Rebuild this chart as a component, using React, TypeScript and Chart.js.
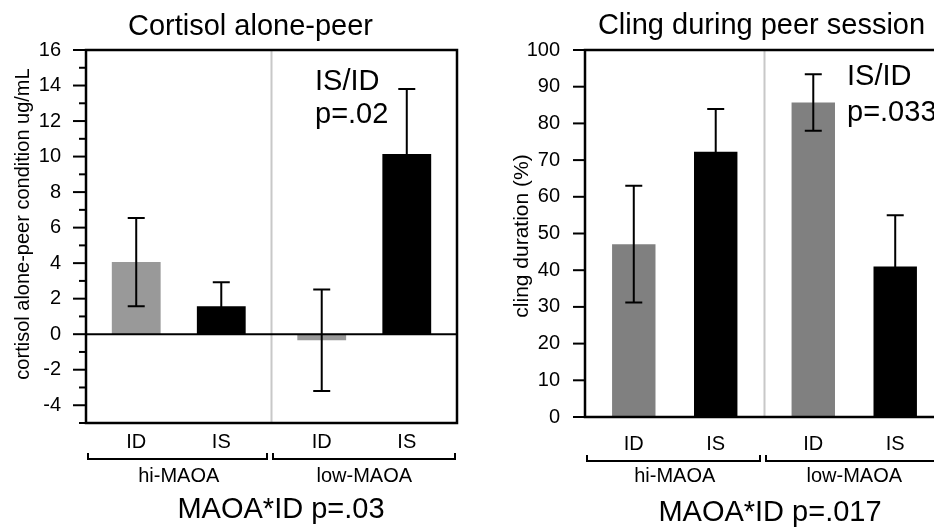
import React, { useEffect, useRef } from 'react';
import { Chart, registerables } from 'chart.js';
Chart.register(...registerables);

// ---- data ----
const groups = ['hi-MAOA', 'low-MAOA'];
const conditions = ['ID', 'IS'];

const cortisolID = [4.06, -0.34];
const cortisolIDErr = [2.48, 2.86];
const cortisolIS = [1.58, 10.14];
const cortisolISErr = [1.35, 3.66];
const cortisolTickLabels = [-4, -2, 0, 2, 4, 6, 8, 10, 12, 14, 16];

const clingID = [47.1, 85.7];
const clingIDErr = [15.9, 7.7];
const clingIS = [72.3, 41.0];
const clingISErr = [11.6, 14.0];
const clingTickLabels = [0, 10, 20, 30, 40, 50, 60, 70, 80, 90, 100];

const FONT = '"Liberation Sans", Arial, Helvetica, sans-serif';

type PanelCfg = {
  width: number;
  values: number[][];
  errors: number[][];
  colors: string[];
  min: number;
  max: number;
  step: number;
  tickLabels: number[];
  yAxisWidth: number;
  bottomPad: number;
  topPad: number;
  rightPad: number;
  catPct: number;
  barPct: number;
  title: string;
  titleX: number;
  titleY: number;
  yTitle: string;
  yTitleX: number;
  yTitleY: number;
  yTitleSize: number;
  annot: string[];
  annotX: number;
  annotY: number[];
  bottom: string;
  bottomX: number;
  bottomY: number;
  condY: number;
  bracketY: number;
  groupY: number;
  zeroLine: boolean;
  closedRight: boolean;
  majorLen: number;
  minorLen: number;
};

function makeChart(canvas: HTMLCanvasElement, p: PanelCfg) {
  const overlay = {
    id: 'overlay',
    beforeDatasetsDraw(chart: any) {
      const { ctx, chartArea: a } = chart;
      const xs = chart.scales.x;
      const mid = (xs.getPixelForValue(0) + xs.getPixelForValue(1)) / 2;
      ctx.save();
      ctx.strokeStyle = '#c8c8c8';
      ctx.lineWidth = 2;
      ctx.beginPath();
      ctx.moveTo(mid, a.top);
      ctx.lineTo(mid, a.bottom);
      ctx.stroke();
      ctx.restore();
    },
    afterDatasetsDraw(chart: any) {
      const { ctx, chartArea: a } = chart;
      const xs = chart.scales.x;
      const ys = chart.scales.y;
      const mid = (xs.getPixelForValue(0) + xs.getPixelForValue(1)) / 2;
      ctx.save();
      ctx.strokeStyle = '#000';
      ctx.fillStyle = '#000';
      // zero line
      if (p.zeroLine) {
        const y0 = ys.getPixelForValue(0);
        ctx.lineWidth = 2;
        ctx.beginPath();
        ctx.moveTo(a.left, y0);
        ctx.lineTo(a.right, y0);
        ctx.stroke();
      }
      // error bars
      ctx.lineWidth = 2;
      p.values.forEach((vals, i) => {
        const meta = chart.getDatasetMeta(i);
        vals.forEach((v, j) => {
          const x = meta.data[j].x;
          const e = p.errors[i][j];
          const yt = ys.getPixelForValue(v + e);
          const yb = ys.getPixelForValue(v - e);
          ctx.beginPath();
          ctx.moveTo(x, yt);
          ctx.lineTo(x, yb);
          ctx.moveTo(x - 8.5, yt);
          ctx.lineTo(x + 8.5, yt);
          ctx.moveTo(x - 8.5, yb);
          ctx.lineTo(x + 8.5, yb);
          ctx.stroke();
        });
      });
      // frame
      ctx.lineWidth = 2.5;
      ctx.beginPath();
      const yBase = ys.getPixelForValue(p.min);
      if (p.closedRight) {
        ctx.rect(a.left, a.top, a.right - a.left, yBase - a.top);
      } else {
        ctx.moveTo(chart.width + 20, a.top);
        ctx.lineTo(a.left, a.top);
        ctx.lineTo(a.left, yBase);
        ctx.lineTo(chart.width + 20, yBase);
        ctx.moveTo(a.right, a.top);
        ctx.lineTo(a.right, yBase);
      }
      ctx.stroke();
      // tick marks
      ctx.lineWidth = 2;
      ys.ticks.forEach((t: any) => {
        const y = ys.getPixelForValue(t.value);
        const len = p.tickLabels.includes(t.value) ? p.majorLen : p.minorLen;
        ctx.beginPath();
        ctx.moveTo(a.left - len, y);
        ctx.lineTo(a.left, y);
        ctx.stroke();
      });
      // condition labels
      ctx.font = `20px ${FONT}`;
      ctx.textAlign = 'center';
      ctx.textBaseline = 'alphabetic';
      p.values.forEach((vals, i) => {
        const meta = chart.getDatasetMeta(i);
        vals.forEach((_v, j) => {
          ctx.fillText(conditions[i], meta.data[j].x, p.condY);
        });
      });
      // brackets
      const spans = [
        [a.left + 2, mid - 4.5],
        [mid + 1.5, p.closedRight ? a.right - 2 : chart.width + 20],
      ];
      ctx.lineWidth = 2;
      spans.forEach(([l, r]) => {
        ctx.beginPath();
        ctx.moveTo(l, p.bracketY - 6);
        ctx.lineTo(l, p.bracketY);
        ctx.lineTo(r, p.bracketY);
        ctx.lineTo(r, p.bracketY - 6);
        ctx.stroke();
      });
      // group labels
      groups.forEach((g, j) => {
        ctx.fillText(g, xs.getPixelForValue(j), p.groupY);
      });
      // titles
      ctx.font = `29px ${FONT}`;
      ctx.fillText(p.title, p.titleX, p.titleY);
      ctx.fillText(p.bottom, p.bottomX, p.bottomY);
      ctx.textAlign = 'left';
      p.annot.forEach((s, k) => ctx.fillText(s, p.annotX, p.annotY[k]));
      // y title
      ctx.save();
      ctx.translate(p.yTitleX, p.yTitleY);
      ctx.rotate(-Math.PI / 2);
      ctx.font = `${p.yTitleSize}px ${FONT}`;
      ctx.textAlign = 'center';
      ctx.textBaseline = 'middle';
      ctx.fillText(p.yTitle, 0, 0);
      ctx.restore();
      ctx.restore();
    },
  };

  return new Chart(canvas, {
    type: 'bar',
    data: {
      labels: groups,
      datasets: conditions.map((c, i) => ({
        label: c,
        data: p.values[i],
        backgroundColor: p.colors[i],
        borderWidth: 0,
        categoryPercentage: p.catPct,
        barPercentage: p.barPct,
      })),
    },
    options: {
      responsive: false,
      maintainAspectRatio: false,
      animation: false,
      events: [],
      layout: { padding: { left: 0, top: p.topPad, right: p.rightPad, bottom: p.bottomPad } },
      plugins: { legend: { display: false }, title: { display: false }, tooltip: { enabled: false } },
      scales: {
        x: { display: false, offset: true },
        y: {
          min: p.min,
          max: p.max,
          grid: { display: false },
          border: { display: false },
          afterFit: (s: any) => {
            s.width = p.yAxisWidth;
          },
          ticks: {
            stepSize: p.step,
            autoSkip: false,
            padding: 17,
            color: '#000',
            font: { family: FONT, size: 20 },
            callback: (v: any) => (p.tickLabels.includes(Number(v)) ? String(v) : ''),
          },
        },
      },
    },
    plugins: [overlay],
  });
}

const leftCfg: PanelCfg = {
  width: 470,
  values: [cortisolID, cortisolIS],
  errors: [cortisolIDErr, cortisolISErr],
  colors: ['#999999', '#000000'],
  min: -5,
  max: 16,
  step: 1,
  tickLabels: cortisolTickLabels,
  yAxisWidth: 86,
  topPad: 50,
  bottomPad: 104,
  rightPad: 13,
  catPct: 0.917,
  barPct: 0.574,
  title: 'Cortisol alone-peer',
  titleX: 250.5,
  titleY: 35,
  yTitle: 'cortisol alone-peer condition ug/mL',
  yTitleX: 23,
  yTitleY: 224,
  yTitleSize: 20,
  annot: ['IS/ID', 'p=.02'],
  annotX: 315,
  annotY: [90, 123],
  bottom: 'MAOA*ID p=.03',
  bottomX: 281,
  bottomY: 518,
  condY: 448,
  bracketY: 459,
  groupY: 482,
  zeroLine: true,
  closedRight: true,
  majorLen: 13,
  minorLen: 7,
};

const rightCfg: PanelCfg = {
  width: 490,
  values: [clingID, clingIS],
  errors: [clingIDErr, clingISErr],
  colors: ['#808080', '#000000'],
  min: 0,
  max: 100,
  step: 10,
  tickLabels: clingTickLabels,
  yAxisWidth: 115,
  topPad: 50,
  bottomPad: 110,
  rightPad: 16,
  catPct: 0.913,
  barPct: 0.53,
  title: 'Cling during peer session',
  titleX: 291.5,
  titleY: 34,
  yTitle: 'cling duration (%)',
  yTitleX: 52,
  yTitleY: 236,
  yTitleSize: 21,
  annot: ['IS/ID', 'p=.033'],
  annotX: 377,
  annotY: [85, 121],
  bottom: 'MAOA*ID p=.017',
  bottomX: 300,
  bottomY: 521,
  condY: 450,
  bracketY: 461,
  groupY: 482,
  zeroLine: false,
  closedRight: false,
  majorLen: 12,
  minorLen: 12,
};

export default function App() {
  const r1 = useRef<HTMLCanvasElement>(null);
  const r2 = useRef<HTMLCanvasElement>(null);
  useEffect(() => {
    const c1 = makeChart(r1.current!, leftCfg);
    const c2 = makeChart(r2.current!, rightCfg);
    return () => {
      c1.destroy();
      c2.destroy();
    };
  }, []);
  return (
    <div
      style={{
        position: 'fixed',
        left: 0,
        top: 0,
        width: 934,
        height: 527,
        overflow: 'hidden',
        background: '#fff',
      }}
    >
      <canvas
        ref={r1}
        width={470}
        height={527}
        style={{ position: 'absolute', left: 0, top: 0, width: 470, height: 527 }}
      />
      <canvas
        ref={r2}
        width={490}
        height={527}
        style={{ position: 'absolute', left: 470, top: 0, width: 490, height: 527 }}
      />
    </div>
  );
}
